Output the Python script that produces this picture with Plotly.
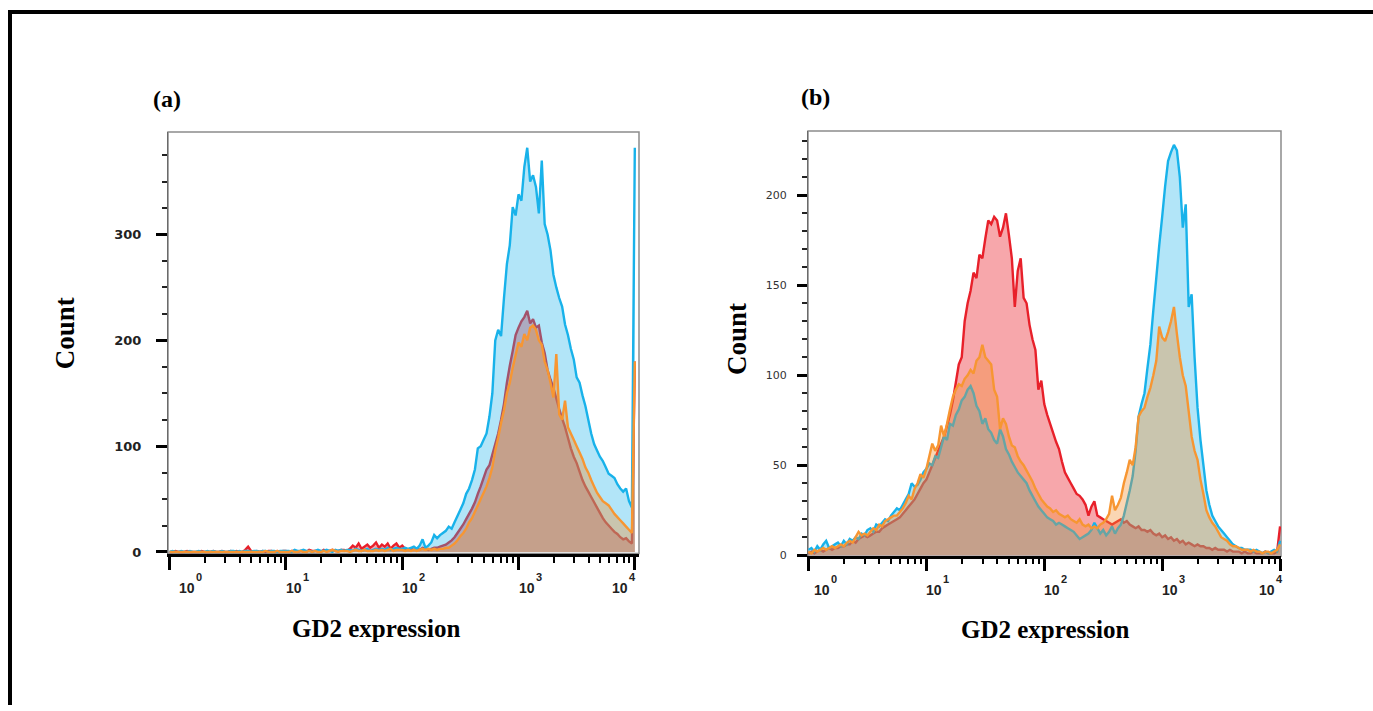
import numpy as np
import plotly.graph_objects as go

# ---------------- data (histogram channels, log10 of GD2 fluorescence) ----------------
CH_START = 0.0      # log10 of first channel
CH_STEP = 0.025     # channel width in decades
N_CH = 161

# Panel (a) counts per channel
A_RED = [
 0,0,1,0,0,0,1,0,0,0,
 0,1,0,0,0,1,0,0,1,0,
 0,1,0,1,0,0,2,5,1,0,
 1,0,1,0,1,1,0,1,0,1,
 1,0,1,1,0,1,1,0,2,1,
 1,1,0,2,1,1,2,1,1,2,
 2,1,3,6,4,8,3,5,7,4,
 6,9,4,7,5,8,3,6,8,4,
 6,3,2,3,2,3,2,4,3,2,
 3,4,4,5,6,7,9,11,14,18,
 22,26,31,36,41,47,55,62,70,78,
 82,92,102,112,125,140,160,176,190,205,
 212,218,222,228,216,220,212,214,198,188,
 172,163,155,145,135,126,118,108,98,90,
 84,76,68,62,57,52,47,42,37,32,
 28,25,22,19,17,14,12,13,10,8,
 180]
A_BLUE = [
 0,1,0,0,1,0,0,1,0,0,
 1,0,0,1,0,1,0,0,1,0,
 0,1,1,0,1,0,1,1,0,1,
 1,0,1,1,0,1,1,0,1,1,
 1,1,0,2,1,1,2,1,1,0,
 1,2,1,1,2,1,0,2,1,2,
 1,2,2,1,3,2,1,2,3,1,
 2,3,2,3,2,4,2,3,4,3,
 3,4,3,4,5,3,6,12,4,6,
 9,16,13,16,18,20,24,22,28,34,
 40,46,55,60,68,78,98,100,106,112,
 128,150,200,210,204,240,272,290,326,318,
 338,332,364,382,350,356,345,320,370,310,
 300,285,262,250,240,232,215,205,192,182,
 165,160,148,138,125,112,102,96,90,86,
 80,74,72,70,64,60,57,60,48,42,
 382]
A_ORANGE = [
 0,0,0,0,0,0,0,0,0,0,
 0,0,0,0,0,0,0,0,0,0,
 0,0,0,0,0,0,0,0,0,0,
 0,0,0,1,0,0,0,1,0,0,
 0,0,1,0,0,1,0,0,1,0,
 1,0,0,1,0,1,2,1,0,1,
 1,1,0,1,2,1,1,2,1,1,
 1,2,1,2,1,2,3,1,2,2,
 2,1,2,1,2,1,2,3,2,3,
 2,3,2,3,3,4,4,6,8,11,
 15,18,22,28,32,38,44,50,56,62,
 70,80,96,108,122,134,150,160,174,186,
 198,194,206,200,212,214,210,200,196,180,
 172,160,146,187,130,125,143,118,112,106,
 100,94,88,80,75,68,62,56,52,48,
 46,44,40,36,33,30,27,24,21,18,
 180]

# Panel (b) counts per channel
B_RED = [
 1,2,1,2,3,2,3,4,3,4,
 4,5,5,6,6,8,7,9,10,11,
 10,11,12,13,13,15,16,17,18,19,
 20,21,23,25,27,29,31,34,37,40,
 42,46,50,54,58,62,66,72,78,86,
 96,106,110,130,140,147,157,154,167,165,
 176,186,184,188,186,177,182,190,178,165,
 138,158,165,143,140,128,120,114,92,97,
 84,78,73,68,63,59,52,46,43,40,
 37,34,33,31,28,22,27,30,22,21,
 20,19,18,17,18,19,20,18,19,17,
 16,15,16,14,14,13,14,12,11,12,
 10,11,9,10,8,9,7,8,6,7,
 6,5,6,5,5,4,4,3,4,3,
 3,3,2,3,2,2,2,1,2,1,
 1,2,1,1,1,2,1,1,1,2,
 16]
B_BLUE = [
 3,4,2,5,3,6,8,4,5,6,
 7,5,8,6,9,8,10,9,12,11,
 14,15,13,17,16,18,20,19,22,24,
 26,25,28,31,34,40,38,39,42,46,
 48,51,50,55,54,60,66,64,73,72,
 78,81,86,88,92,94,90,83,80,73,
 76,70,68,64,62,70,66,59,56,52,
 49,46,44,42,40,36,33,30,27,25,
 23,21,20,19,17,18,17,16,15,14,
 13,11,9,10,11,12,14,18,15,12,
 14,11,13,16,12,15,17,22,29,36,
 44,58,77,84,90,104,117,136,154,172,
 188,205,219,224,228,225,210,182,195,138,
 145,110,82,64,50,36,28,22,19,16,
 14,12,10,8,6,5,4,4,3,3,
 3,2,3,2,1,2,1,2,3,2,
 8]
B_ORANGE = [
 2,1,3,2,3,4,3,4,5,4,
 5,6,5,7,8,7,10,13,11,12,
 11,13,15,14,17,16,19,20,21,22,
 22,24,26,29,33,31,37,40,45,43,
 48,55,62,58,61,72,66,73,81,88,
 92,95,94,98,100,103,101,108,110,117,
 110,108,106,92,88,70,76,73,66,61,
 60,55,52,50,47,44,41,37,34,31,
 29,27,26,24,25,23,22,21,22,20,
 19,18,20,17,16,17,15,16,15,17,
 18,20,23,33,25,28,32,40,46,53,
 50,60,77,80,82,88,93,100,108,127,
 121,119,124,130,138,123,110,100,94,80,
 66,58,53,42,34,25,21,18,16,13,
 10,9,8,6,5,5,4,3,3,3,
 2,3,2,2,1,2,2,1,2,3,
 6]

DECADES = [0, 1, 2, 3, 4]
A_YTICKS = [0, 100, 200, 300]
B_YTICKS = [0, 50, 100, 150, 200]
PANEL_LABELS = ["(a)", "(b)"]
X_TITLE = "GD2 expression"
Y_TITLE = "Count"

# ---------------- figure ----------------
W, H = 1373, 711
log_ch = np.round(CH_START + CH_STEP * np.arange(N_CH), 4)
xv = 10 ** log_ch

def py(px):
    return 1 - px / H

def pxx(px):
    return px / W

STYLE = {
    "red": dict(line="rgb(232,32,42)", fill="rgba(235,35,45,0.40)"),
    "blue": dict(line="rgb(24,178,234)", fill="rgba(30,180,234,0.34)"),
    "orange": dict(line="rgb(247,150,50)", fill="rgba(240,140,45,0.36)"),
}

fig = go.Figure()
for xa, ya, series in [("x", "y", [("red", A_RED), ("blue", A_BLUE), ("orange", A_ORANGE)]),
                       ("x2", "y2", [("red", B_RED), ("blue", B_BLUE), ("orange", B_ORANGE)])]:
    for name, vals in series:
        st = STYLE[name]
        fig.add_trace(go.Scatter(
            x=xv, y=vals, xaxis=xa, yaxis=ya, mode="lines",
            line=dict(color=st["line"], width=2.4, simplify=False),
            fill="tozeroy", fillcolor=st["fill"], hoverinfo="skip", showlegend=False))

minor_vals = [m * 10 ** d for d in range(0, 4) for m in range(2, 10)]

def xaxis_cfg(dom, rng, anchor, ticklen, minorlen):
    return dict(type="log", domain=dom, range=rng, anchor=anchor,
                showgrid=False, zeroline=False, showline=True, linecolor="black", linewidth=3,
                ticks="outside", tickmode="array", tickvals=[10 ** d for d in DECADES],
                ticklen=ticklen, tickwidth=3, tickcolor="black", showticklabels=False,
                minor=dict(tickmode="array", tickvals=minor_vals, ticks="outside",
                           ticklen=minorlen, tickwidth=2, tickcolor="black", showgrid=False))

def yaxis_cfg(dom, rng, anchor, tickvals, dminor, font, standoff, ticklen):
    return dict(domain=dom, range=rng, anchor=anchor, showgrid=False, zeroline=False,
                showline=True, linecolor="#6a6a6a", linewidth=1,
                ticks="outside", tickmode="array", tickvals=tickvals,
                ticklen=ticklen, tickwidth=3, tickcolor="black",
                tickfont=font, ticklabelstandoff=standoff,
                minor=dict(dtick=dminor, ticks="outside", ticklen=5, tickwidth=1.5,
                           tickcolor="#222", showgrid=False))

fig.update_layout(
    width=W, height=H, margin=dict(l=0, r=0, t=0, b=0),
    paper_bgcolor="white", plot_bgcolor="white", showlegend=False,
    xaxis=xaxis_cfg([pxx(168), pxx(639)], [-0.014, 4.036], "y", 13, 6),
    yaxis=yaxis_cfg([py(558.3), py(133)], [-1.5, 397], "x", A_YTICKS, 25,
                    dict(family="DejaVu Sans", size=13, color="#222", weight="bold"), 12, 11),
    xaxis2=xaxis_cfg([pxx(808), pxx(1281)], [-0.004, 4.008], "y2", 12, 5),
    yaxis2=yaxis_cfg([py(561), py(132)], [-0.6, 235.8], "x2", B_YTICKS, 10,
                     dict(family="DejaVu Sans", size=11, color="#333"), 8, 10),
)

shapes = [
    dict(type="rect", xref="x domain", yref="y domain", x0=0, x1=1, y0=0, y1=1,
         line=dict(color="#8c8c8c", width=1.5), layer="below"),
    dict(type="rect", xref="x2 domain", yref="y2 domain", x0=0, x1=1, y0=0, y1=1,
         line=dict(color="#8c8c8c", width=1.5), layer="below"),
    dict(type="line", xref="paper", yref="paper", x0=pxx(8), x1=1, y0=py(12), y1=py(12),
         line=dict(color="black", width=4)),
    dict(type="line", xref="paper", yref="paper", x0=pxx(10), x1=pxx(10), y0=0, y1=py(10),
         line=dict(color="black", width=4)),
]
fig.update_layout(shapes=shapes)

serif = "Liberation Serif"
ann = []

def txt(text, cx, cy, size, angle=0):
    return dict(text=text, x=pxx(cx), y=py(cy), xref="paper", yref="paper",
                xanchor="center", yanchor="middle", showarrow=False, textangle=angle,
                font=dict(family=serif, size=size, color="black", weight="bold"))

ann.append(txt(PANEL_LABELS[0], 167, 100, 24))
ann.append(txt(PANEL_LABELS[1], 816, 98, 24))
for cx, cy in [(376, 634), (1045, 635)]:
    ann.append(txt(X_TITLE, cx, cy, 25))
for cx, cy in [(65, 336), (737, 342)]:
    ann.append(txt(Y_TITLE, cx, cy, 27, -90))

# x tick labels: "10" with raised exponent
base_font = dict(family="Liberation Sans", size=14, color="#222", weight="bold")
exp_font = dict(family="Liberation Sans", size=11, color="#222", weight="bold")
BASE_W = 16
for xr, shifts, ybase, yexp in [("x", [7, -2, -2, -2, -25], 593, 582),
                                 ("x2", [4, -2, -2, -2, -23], 595, 584)]:
    for i, d in enumerate(DECADES):
        ann.append(dict(text="10", x=d, y=py(ybase), xref=xr, yref="paper",
                        xanchor="left", yanchor="middle", xshift=shifts[i], showarrow=False,
                        font=base_font))
        ann.append(dict(text=str(d), x=d, y=py(yexp), xref=xr, yref="paper",
                        xanchor="left", yanchor="middle", xshift=shifts[i] + BASE_W + 1,
                        showarrow=False, font=exp_font))
fig.update_layout(annotations=ann)

fig.write_html("out.html")
